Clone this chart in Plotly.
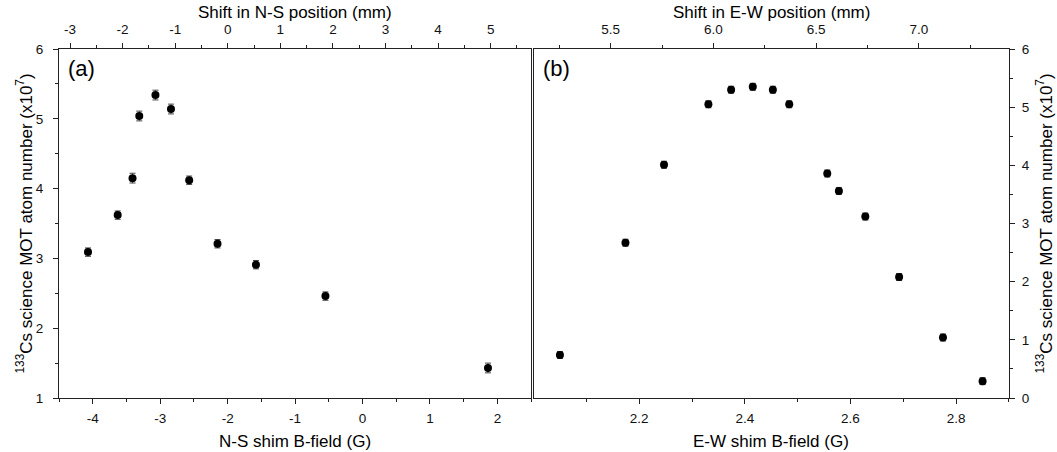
import plotly.graph_objects as go

# ---- data ----
ns_field = [-4.07, -3.63, -3.41, -3.31, -3.07, -2.84, -2.57, -2.15, -1.58, -0.55, 1.86]
ns_atoms = [3.09, 3.62, 4.15, 5.04, 5.34, 5.14, 4.12, 3.21, 2.91, 2.46, 1.43]
ns_err = [0.06, 0.06, 0.07, 0.07, 0.07, 0.07, 0.06, 0.06, 0.06, 0.06, 0.07]

ew_field = [2.050, 2.174, 2.247, 2.331, 2.374, 2.415, 2.453, 2.484, 2.556, 2.578, 2.628, 2.692, 2.775, 2.850]
ew_atoms = [0.74, 2.67, 4.01, 5.05, 5.30, 5.35, 5.30, 5.05, 3.86, 3.56, 3.12, 2.08, 1.04, 0.29]
ew_err = [0.06, 0.06, 0.06, 0.06, 0.06, 0.06, 0.06, 0.06, 0.06, 0.06, 0.06, 0.06, 0.06, 0.06]

ns_bottom_ticks = [-4, -3, -2, -1, 0, 1, 2]
ns_bottom_text = ["-4", "-3", "-2", "-1", "0", "1", "2"]
ns_top_ticks = [-3, -2, -1, 0, 1, 2, 3, 4, 5]
ns_top_text = ["-3", "-2", "-1", "0", "1", "2", "3", "4", "5"]
ew_top_ticks = [5.5, 6.0, 6.5, 7.0]
ew_top_text = ["5.5", "6.0", "6.5", "7.0"]
ew_bottom_ticks = [2.2, 2.4, 2.6, 2.8]
ew_bottom_text = ["2.2", "2.4", "2.6", "2.8"]
y_left_ticks = [1, 2, 3, 4, 5, 6]
y_right_ticks = [0, 1, 2, 3, 4, 5, 6]

FONT = "Liberation Sans, Arial, sans-serif"
LINE = "#222222"
ytitle = "<sup>133</sup>Cs science MOT atom number (x10<sup>7</sup>)"

fig = go.Figure()

marker = dict(color="black", size=8)
fig.add_trace(go.Scatter(
    x=ns_field, y=ns_atoms, mode="markers", marker=marker,
    error_y=dict(type="data", array=ns_err, color="#444444", thickness=1, width=3),
    xaxis="x", yaxis="y", showlegend=False))
fig.add_trace(go.Scatter(
    x=ew_field, y=ew_atoms, mode="markers", marker=marker,
    error_y=dict(type="data", array=ew_err, color="#444444", thickness=1, width=3),
    xaxis="x2", yaxis="y2", showlegend=False))
# invisible traces to activate the top axes
fig.add_trace(go.Scatter(x=[0, 1], y=[None, None], mode="markers", xaxis="x3", yaxis="y",
                         showlegend=False, hoverinfo="skip"))
fig.add_trace(go.Scatter(x=[6, 7], y=[None, None], mode="markers", xaxis="x4", yaxis="y2",
                         showlegend=False, hoverinfo="skip"))

d1 = 0.4970
d2 = 0.4995
common = dict(showline=True, linecolor=LINE, linewidth=1.3, ticks="outside", ticklen=5,
              tickwidth=1.2, tickcolor=LINE, showgrid=False, zeroline=False,
              automargin=False,
              tickfont=dict(family=FONT, size=13.5, color="#111111"))
minor = dict(ticks="outside", ticklen=3, tickcolor=LINE, tickwidth=1.2)
tfont = dict(family=FONT, size=17, color="black")

fig.update_layout(
    width=1057, height=452,
    margin=dict(l=59, r=48, t=49, b=54, autoexpand=False),
    paper_bgcolor="white", plot_bgcolor="white",
    font=dict(family=FONT, color="black"),
    xaxis=dict(domain=[0, d1], range=[-4.5, 2.5], anchor="y",
               tickvals=ns_bottom_ticks, ticktext=ns_bottom_text, mirror=True,
               ticklabelstandoff=3,
               minor=dict(dtick=0.5, tick0=0, **minor), **common),
    yaxis=dict(domain=[0, 1], range=[1, 6], anchor="x",
               tickvals=y_left_ticks, mirror=True, ticklabelstandoff=7,
               minor=dict(dtick=0.5, tick0=0, **minor), **common),
    xaxis2=dict(domain=[d2, 1], range=[2.0, 2.9], anchor="y2",
                tickvals=ew_bottom_ticks, ticktext=ew_bottom_text, mirror=True,
                ticklabelstandoff=3,
                minor=dict(tickvals=[2.1, 2.3, 2.5, 2.7, 2.9], **minor), **common),
    yaxis2=dict(domain=[0, 1], range=[0, 6], anchor="x2", side="right",
                tickvals=y_right_ticks, mirror=True, ticklabelstandoff=4,
                minor=dict(dtick=0.5, tick0=0, **minor), **common),
    xaxis3=dict(overlaying="x", side="top", anchor="y", range=[-3.21, 5.77],
                tickvals=ns_top_ticks, ticktext=ns_top_text, ticklabelstandoff=3,
                minor=dict(dtick=0.5, tick0=0, **minor), **common),
    xaxis4=dict(overlaying="x2", side="top", anchor="y2", range=[5.125, 7.438],
                tickvals=ew_top_ticks, ticktext=ew_top_text, ticklabelstandoff=3,
                minor=dict(dtick=0.25, tick0=0, **minor), **common),
    annotations=[
        dict(text="(a)", x=0.015, y=0.985, xref="x domain", yref="y domain",
             xanchor="left", yanchor="top", showarrow=False,
             font=dict(family=FONT, size=22, color="black")),
        dict(text="(b)", x=0.015, y=0.985, xref="x2 domain", yref="y2 domain",
             xanchor="left", yanchor="top", showarrow=False,
             font=dict(family=FONT, size=22, color="black")),
        # axis titles
        dict(text="N-S shim B-field (G)", x=0.5, y=0, xref="x domain", yref="paper",
             xanchor="center", yanchor="middle", yshift=-43, showarrow=False, font=tfont),
        dict(text="E-W shim B-field (G)", x=0.5, y=0, xref="x2 domain", yref="paper",
             xanchor="center", yanchor="middle", yshift=-43, showarrow=False, font=tfont),
        dict(text="Shift in N-S position (mm)", x=0.5, y=1, xref="x domain", yref="paper",
             xanchor="center", yanchor="middle", yshift=37, showarrow=False, font=tfont),
        dict(text="Shift in E-W position (mm)", x=0.5, y=1, xref="x2 domain", yref="paper",
             xanchor="center", yanchor="middle", yshift=37, showarrow=False, font=tfont),
        dict(text=ytitle, x=0, y=0.5, xref="paper", yref="paper", textangle=-90,
             xanchor="center", yanchor="middle", xshift=-35, showarrow=False, font=tfont),
        dict(text=ytitle, x=1, y=0.5, xref="paper", yref="paper", textangle=-90,
             xanchor="center", yanchor="middle", xshift=35, showarrow=False, font=tfont),
    ],
)

fig.write_html("out.html", config={"displayModeBar": False},
               post_script="document.body.style.margin='0';document.body.style.padding='0';")
